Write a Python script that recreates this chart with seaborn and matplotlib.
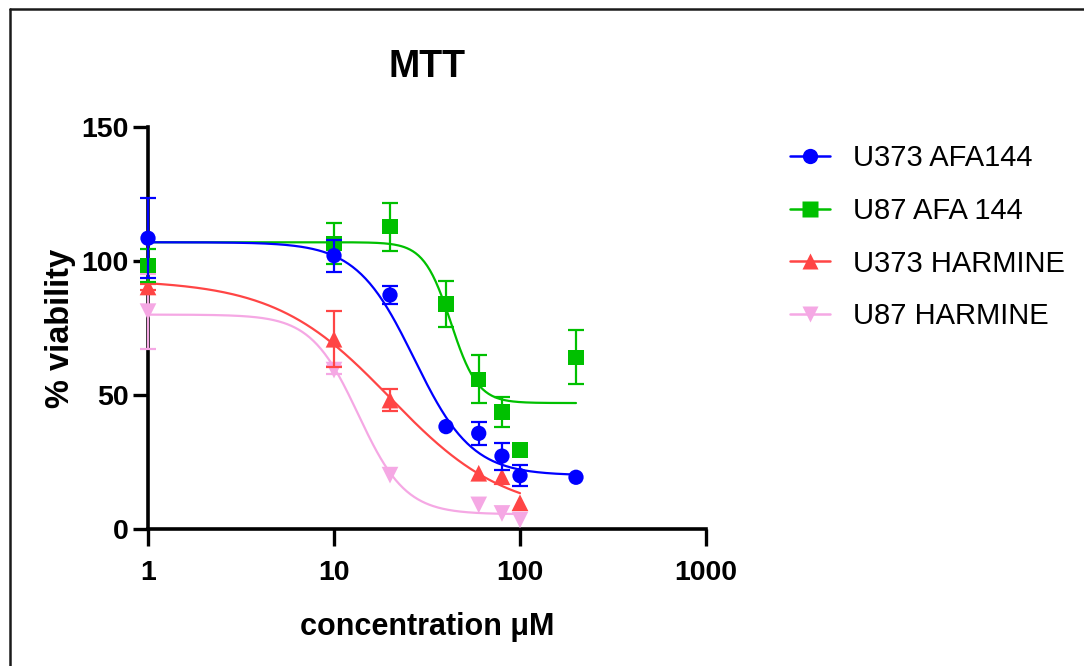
import numpy as np
import pandas as pd
import matplotlib
matplotlib.use("Agg")
import matplotlib.pyplot as plt
from matplotlib.lines import Line2D
import seaborn as sns

# ---- measured means and error (SEM) per series ----
conc_afa = [1, 10, 20, 40, 60, 80, 100, 200]
conc_harm = [1, 10, 20, 60, 80, 100]

u373_afa_mean = [108.5, 102.0, 87.3, 38.2, 35.7, 27.2, 19.9, 19.3]
u373_afa_err = [15.0, 6.0, 3.5, 0.0, 4.3, 5.0, 4.0, 0.0]

u87_afa_mean = [98.3, 106.5, 112.8, 84.0, 55.9, 43.7, 29.5, 64.1]
u87_afa_err = [6.0, 7.5, 9.0, 8.5, 9.0, 5.6, 0.0, 10.0]

u373_harm_mean = [90.3, 70.8, 48.1, 20.8, 19.5, 9.8]
u373_harm_err = [1.0, 10.5, 4.0, 0.0, 0.0, 0.0]

u87_harm_mean = [81.1, 59.3, 20.1, 9.0, 5.8, 3.4]
u87_harm_err = [14.0, 1.5, 0.0, 0.0, 0.0, 0.0]

# four-parameter logistic fit results: top, bottom, EC50, Hill slope, last dose
fit_u373_afa = (107.0, 20.0, 27.0, 2.8, 200)
fit_u87_afa = (107.0, 47.0, 42.5, 6.0, 200)
fit_u373_harm = (93.0, 5.0, 20.0, 1.4, 100)
fit_u87_harm = (80.0, 5.5, 13.5, 3.4, 100)

series_names = ["U373 AFA144", "U87 AFA 144", "U373 HARMINE", "U87 HARMINE"]
colors = ["#0000FF", "#00C000", "#FF4545", "#F5A8E4"]
markers = ["o", "s", "^", "v"]
marker_sizes = [11, 11, 12, 12]

x_ticks = [1, 10, 100, 1000]
y_ticks = [0, 50, 100, 150]


def four_pl(x, top, bottom, ec50, hill):
    return bottom + (top - bottom) / (1.0 + (x / ec50) ** hill)


series = [
    (conc_afa, u373_afa_mean, u373_afa_err, fit_u373_afa),
    (conc_afa, u87_afa_mean, u87_afa_err, fit_u87_afa),
    (conc_harm, u373_harm_mean, u373_harm_err, fit_u373_harm),
    (conc_harm, u87_harm_mean, u87_harm_err, fit_u87_harm),
]

sns.set_style("ticks")
plt.rcParams["font.family"] = ["Liberation Sans", "DejaVu Sans"]
plt.rcParams["text.color"] = "black"
plt.rcParams["axes.labelcolor"] = "black"
plt.rcParams["xtick.color"] = "black"
plt.rcParams["ytick.color"] = "black"

fig = plt.figure(figsize=(10.84, 6.66), dpi=100)
ax = fig.add_axes([148 / 1084, 1 - 529 / 666, 558 / 1084, 402 / 666])

# draw last series first so the blue one sits on top
for idx in reversed(range(len(series))):
    xs, ys, es, fit = series[idx]
    col = colors[idx]
    z = 10 - idx * 2
    top, bottom, ec50, hill, xmax = fit
    xc = np.logspace(0, np.log10(xmax), 300)
    curve = pd.DataFrame({"conc": xc, "viab": four_pl(xc, top, bottom, ec50, hill)})
    sns.lineplot(data=curve, x="conc", y="viab", color=col, linewidth=1.6,
                 ax=ax, zorder=z, legend=False)

    pts = pd.DataFrame({"conc": xs, "viab": ys, "err": es})
    eb = pts[pts["err"] > 0]
    ax.errorbar(eb["conc"], eb["viab"], yerr=eb["err"], fmt="none", ecolor=col,
                elinewidth=1.6, capsize=5.5, capthick=1.6, zorder=z + 0.5,
                clip_on=False)
    sns.scatterplot(data=pts, x="conc", y="viab", color=col, marker=markers[idx],
                    s=marker_sizes[idx] ** 2, edgecolor="none", ax=ax,
                    zorder=z + 1, legend=False, clip_on=False)

ax.set_xscale("log")
ax.set_xlim(1, 1000)
ax.set_ylim(0, 150)
ax.set_xticks(x_ticks)
ax.set_xticklabels([str(t) for t in x_ticks])
ax.minorticks_off()
ax.set_yticks(y_ticks)
ax.set_yticklabels([str(t) for t in y_ticks])

for side in ["top", "right"]:
    ax.spines[side].set_visible(False)
for side in ["left", "bottom"]:
    ax.spines[side].set_linewidth(2.6)
    ax.spines[side].set_color("black")

ax.tick_params(axis="both", which="major", direction="out", width=2.4,
               color="black", labelsize=20.5, labelcolor="black")
ax.tick_params(axis="y", length=11, pad=3)
ax.tick_params(axis="x", length=12, pad=10)
for lab in ax.get_xticklabels() + ax.get_yticklabels():
    lab.set_fontweight("bold")

ax.set_xlabel("concentration \u03bcM", fontsize=22, fontweight="bold", labelpad=19)
ax.set_ylabel("% viability", fontsize=23.5, fontweight="bold", labelpad=4)
ax.set_title("MTT", fontsize=27, fontweight="bold", pad=36)

handles = [
    Line2D([0], [0], color=c, marker=m, markersize=ms, linewidth=1.8,
           markeredgecolor="none")
    for c, m, ms in zip(colors, markers, marker_sizes)
]
fig.legend(handles, series_names, loc="upper left",
           bbox_to_anchor=(790 / 1084, 1 - 144 / 666), frameon=False,
           fontsize=21, handlelength=1.38, handletextpad=0.78,
           labelspacing=0.85, borderpad=0, borderaxespad=0)

# thin frame around the panel
frame_kw = dict(color="#1a1a1a", linewidth=1.8, transform=fig.transFigure)
fig.add_artist(Line2D([10 / 1084, 1.0], [1 - 9 / 666, 1 - 9 / 666], **frame_kw))
fig.add_artist(Line2D([10 / 1084, 10 / 1084], [1 - 9 / 666, 0.0], **frame_kw))

fig.savefig("out.png", dpi=100)
